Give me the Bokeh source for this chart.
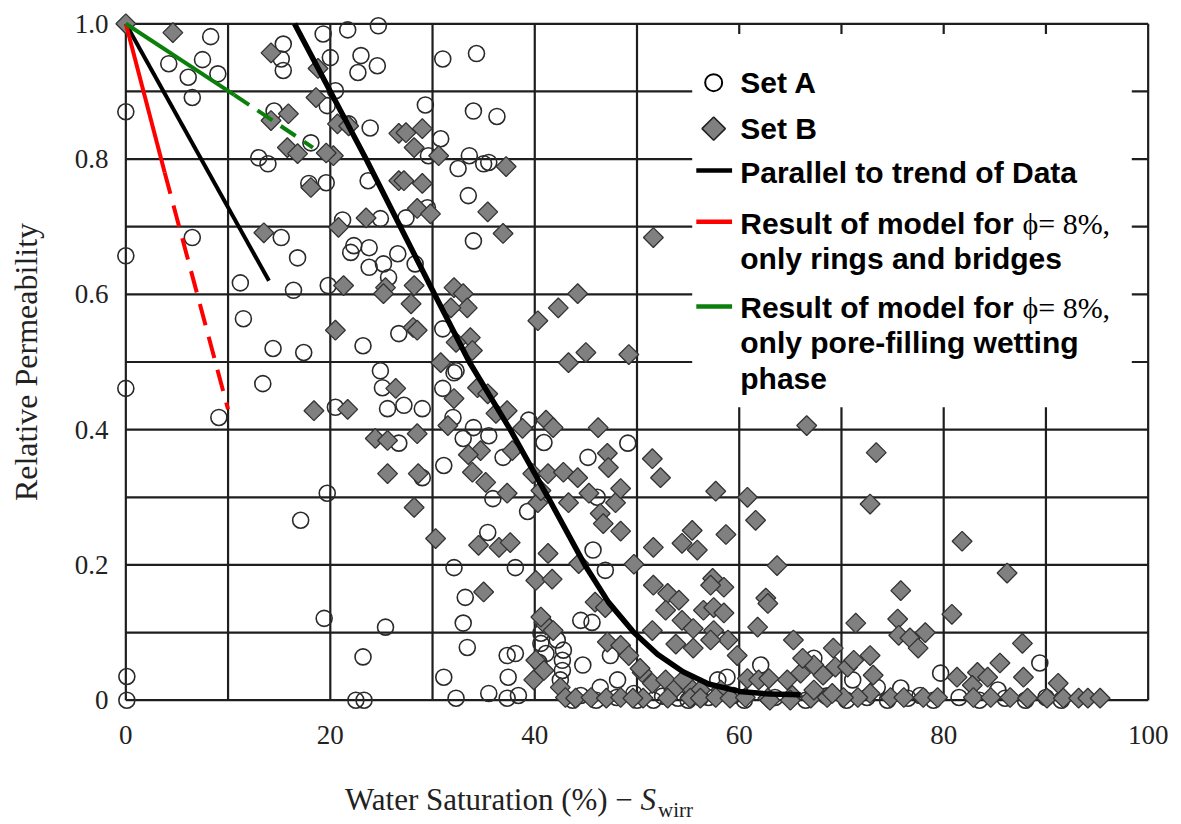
import math
from bokeh.plotting import figure
from bokeh.models import Range1d, FixedTicker, Label, Div
from bokeh.layouts import column
from bokeh.embed import file_html
from bokeh.resources import INLINE

# ---------------- data ----------------
set_a_x = [0, 0, 0, 0.1, 0.1,
           8.3, 4.2, 6.1, 7.5, 9.0, 6.5, 6.5, 9.1,
           15.4, 15.2, 15.4, 14.5, 13.0, 13.9, 17.9, 19.6, 15.2, 16.8, 11.2, 16.4, 19.8,
           19.3, 20.0, 21.7, 23.0, 24.6, 22.7, 24.7, 20.5, 19.7, 23.9, 18.1, 21.8, 23.7, 22.3, 23.8, 23.8, 25.2, 25.7, 26.6,
           11.5, 14.4, 17.4, 13.4, 23.2, 24.9, 25.1, 25.6, 20.5, 17.1, 19.7, 26.7, 26.7, 19.4, 25.4, 23.2, 22.5, 23.3,
           31.0, 34.3, 29.3, 34.0, 36.3, 30.8, 29.6, 33.6, 32.5, 35.0, 35.5, 33.5, 29.5, 27.4, 34.0, 28.3,
           21.2, 24.9, 22.0, 31.0, 32.1, 31.0, 27.2, 29.0, 32.0, 34.0, 39.4,
           32.3, 33.0, 35.5, 40.9, 36.9, 31.1, 45.2, 49.1, 29.0, 35.9, 39.3, 46.1, 35.4, 45.7, 32.1, 38.1, 46.9, 33.2,
           33.0, 33.4, 31.1, 32.3, 35.5, 37.3, 38.1, 37.4, 37.3, 38.4, 40.6, 40.4, 42.2, 42.8, 42.7, 42.5, 44.5, 45.6,
           44.7, 43.7, 44.5, 46.4, 47.4, 48.1, 49.7, 62.1, 51.6, 54.0, 56.2, 57.9, 58.8, 59.4, 40.6, 41.1, 42.7,
           67.3, 71.1, 79.7, 89.4, 75.8, 85.3, 73.5, 77.7,
           46.0, 48.0, 50.0, 52.5, 55.0, 57.0, 60.5, 63.5, 66.5, 68.5, 70.5, 72.5, 74.5, 76.5, 79.0, 81.5, 83.5, 86.0, 88.0, 90.0, 91.5]
set_a_y = [0.870, 0.657, 0.461, 0.035, 0.0,
           0.981, 0.941, 0.921, 0.947, 0.926, 0.891, 0.684, 0.418,
           0.970, 0.948, 0.931, 0.871, 0.802, 0.793, 0.764, 0.765, 0.684, 0.654, 0.617, 0.606, 0.613,
           0.985, 0.950, 0.991, 0.953, 0.938, 0.928, 0.997, 0.901, 0.879, 0.846, 0.824, 0.852, 0.768, 0.672, 0.669, 0.640, 0.645, 0.625, 0.660,
           0.564, 0.520, 0.514, 0.468, 0.524, 0.487, 0.462, 0.431, 0.433, 0.266, 0.306, 0.542, 0.380, 0.121, 0.108, 0.064, 0.0, 0.0,
           0.948, 0.956, 0.880, 0.871, 0.863, 0.830, 0.805, 0.805, 0.786, 0.793, 0.795, 0.746, 0.728, 0.713, 0.679, 0.645,
           0.710, 0.712, 0.662, 0.549, 0.484, 0.461, 0.436, 0.431, 0.418, 0.403, 0.414,
           0.487, 0.387, 0.391, 0.381, 0.359, 0.347, 0.359, 0.380, 0.329, 0.298, 0.279, 0.300, 0.248, 0.222, 0.196, 0.196, 0.192, 0.152,
           0.114, 0.078, 0.034, 0.003, 0.010, 0.066, 0.069, 0.034, 0.003, 0.007, 0.084, 0.056, 0.089, 0.074, 0.059, 0.030, 0.118, 0.115,
           0.052, 0.0, 0.007, 0.019, 0.066, 0.030, 0.010, 0.052, 0.0, 0.003, 0.004, 0.030, 0.034, 0.007, 0.099, 0.069, 0.044,
           0.062, 0.030, 0.040, 0.055, 0.018, 0.015, 0.019, 0.007,
           0.0, 0.004, 0.0, 0.006, 0.0, 0.004, 0.0, 0.004, 0.0, 0.006, 0.0, 0.004, 0.0, 0.003, 0.0, 0.004, 0.0, 0.003, 0.0, 0.004, 0.0]

set_b_x = [0, 4.6, 14.2, 18.6, 15.9, 14.2, 15.8, 16.8, 18.1, 20.3, 19.6, 20.7, 21.8, 18.8, 23.5, 20.8, 13.5, 21.3, 25.4, 25.2,
           26.7, 26.7, 20.5, 18.4, 21.7, 26.4, 24.4, 25.6, 25.6,
           27.4, 29.0, 28.2, 30.6, 37.2, 27.2, 29.0, 35.4, 28.5, 29.8, 36.9, 51.6, 44.2, 28.2, 32.1, 33.0,
           27.9, 33.4, 31.8, 28.1, 28.5, 33.7, 32.3, 33.9, 30.8, 34.4, 32.1, 35.4, 36.2, 37.3, 31.5, 38.8, 41.1, 41.8,
           42.3, 40.3, 45.0, 43.3, 46.2, 28.5, 49.2,
           34.7, 33.5, 37.8, 28.6, 33.9, 35.2, 39.8, 41.3, 42.8, 44.2, 47.1, 47.2, 51.5, 52.3, 28.2, 37.3, 40.3, 43.3,
           45.3, 47.9, 48.4, 46.4, 46.7, 48.4, 57.7, 60.8, 61.6,
           30.3, 34.5, 36.5, 37.6, 41.3, 44.3, 49.7, 51.6, 54.4, 55.4, 55.9, 58.7, 63.7, 40.1, 41.7, 35.0, 51.6, 53.0,
           57.4, 58.5, 62.6,
           40.6, 45.9, 46.9, 54.1, 52.8, 54.4, 55.5, 51.5, 53.8, 55.5, 47.1, 48.4, 49.2, 40.9, 41.1, 41.8, 40.6, 40.1,
           39.9, 40.9, 42.5, 43.0, 50.5, 51.5, 52.8, 53.6, 55.2, 56.2, 50.3, 50.6,
           56.5, 57.5, 57.2, 58.5, 58.9, 59.8, 57.5, 62.8, 61.8, 65.3, 54.5, 58.2, 60.8, 61.9, 62.8, 64.7, 65.2, 53.0,
           55.2, 57.2,
           69.2, 71.4, 72.8, 75.8, 75.5, 75.6, 76.7, 78.2, 77.5, 80.8, 86.2, 87.7, 85.5, 87.8, 91.2, 62.9, 66.0, 67.3,
           68.2, 69.4, 70.6, 71.2, 73.1, 81.3, 83.3, 84.3, 82.8,
           72.8, 71.6, 74.8, 76.1, 78.0, 79.4, 82.9, 84.6, 86.5, 88.2, 90.1, 91.7, 93.2, 94.1, 95.3, 63.0, 65.0, 67.0,
           68.6, 70.2,
           44.0, 45.5, 47.0, 48.4, 49.6, 56.2, 57.7, 59.1, 60.6,
           69.1, 67.3, 66.2, 66.6, 73.4, 72.8, 81.8]
set_b_y = [1.0, 0.987, 0.957, 0.891, 0.867, 0.857, 0.817, 0.808, 0.758, 0.805, 0.809, 0.852, 0.849, 0.934, 0.713, 0.699, 0.691, 0.613, 0.610, 0.601,
           0.838, 0.768, 0.547, 0.428, 0.430, 0.461, 0.387, 0.384, 0.335,
           0.839, 0.845, 0.817, 0.805, 0.789, 0.768, 0.764, 0.722, 0.727, 0.719, 0.690, 0.684, 0.601, 0.613, 0.610, 0.601,
           0.586, 0.580, 0.580, 0.551, 0.547, 0.536, 0.529, 0.517, 0.499, 0.462, 0.446, 0.453, 0.424, 0.428, 0.406, 0.402, 0.414, 0.403,
           0.580, 0.561, 0.514, 0.499, 0.403, 0.394, 0.511,
           0.369, 0.363, 0.369, 0.335, 0.337, 0.322, 0.335, 0.335, 0.337, 0.329, 0.365, 0.344, 0.357, 0.329, 0.285, 0.306, 0.292, 0.292,
           0.306, 0.292, 0.313, 0.276, 0.261, 0.250, 0.309, 0.300, 0.266,
           0.239, 0.229, 0.226, 0.233, 0.217, 0.202, 0.201, 0.226, 0.232, 0.251, 0.222, 0.245, 0.199, 0.177, 0.179, 0.160, 0.170, 0.158,
           0.180, 0.167, 0.151,
           0.310, 0.145, 0.137, 0.148, 0.133, 0.118, 0.106, 0.103, 0.083, 0.077, 0.086, 0.081, 0.066, 0.115, 0.111, 0.103, 0.123, 0.059,
           0.030, 0.044, 0.019, 0.004, 0.041, 0.025, 0.030, 0.015, 0.019, 0.015, 0.047, 0.003,
           0.133, 0.137, 0.170, 0.129, 0.089, 0.066, 0.103, 0.143, 0.108, 0.089, 0.030, 0.015, 0.032, 0.030, 0.003, 0.030, 0.007, 0.003,
           0.003, 0.089,
           0.077, 0.114, 0.066, 0.162, 0.120, 0.096, 0.092, 0.100, 0.077, 0.127, 0.188, 0.084, 0.055, 0.034, 0.025, 0.032, 0.040, 0.052,
           0.037, 0.049, 0.049, 0.059, 0.037, 0.034, 0.041, 0.034, 0.022,
           0.010, 0.004, 0.004, 0.004, 0.004, 0.004, 0.004, 0.004, 0.004, 0.003, 0.003, 0.003, 0.003, 0.003, 0.003, 0.0, 0.0, 0.003,
           0.004, 0.004,
           0.003, 0.004, 0.003, 0.004, 0.003, 0.003, 0.004, 0.003, 0.004,
           0.010, 0.015, 0.062, 0.406, 0.366, 0.290, 0.235]

trend_x = [16.5, 23.5, 30.2, 33.6, 37.6, 41.3, 44.9, 47.2, 49.7, 52.0, 54.5, 57.0, 60.0, 63.0, 66.0]
trend_y = [1.0, 0.8, 0.6, 0.5, 0.4, 0.3, 0.2, 0.145, 0.1, 0.068, 0.042, 0.024, 0.013, 0.009, 0.008]

parallel_x = [0, 14.0]
parallel_y = [1.0, 0.62]
red_solid_x = [0, 3.8]
red_solid_y = [1.0, 0.78]
red_dash_x = [3.8, 10.0]
red_dash_y = [0.78, 0.43]
green_solid_x = [0, 10.6]
green_solid_y = [1.0, 0.895]
green_dash_x = [10.6, 18.3]
green_dash_y = [0.895, 0.817]

x_ticks = [0, 20, 40, 60, 80, 100]
x_tick_labels = ["0", "20", "40", "60", "80", "100"]
y_ticks = [0, 0.2, 0.4, 0.6, 0.8, 1.0]
y_tick_labels = ["0", "0.2", "0.4", "0.6", "0.8", "1.0"]
x_grid = [0, 10, 20, 30, 40, 50, 60, 70, 80, 90, 100]
y_grid = [0, 0.1, 0.2, 0.3, 0.4, 0.5, 0.6, 0.7, 0.8, 0.9, 1.0]

legend_set_a = "Set A"
legend_set_b = "Set B"
legend_parallel = "Parallel to trend of Data"
legend_model = "Result of model for"
legend_phi = "\u03d5= 8%,"
legend_red_2 = "only rings and bridges"
legend_green_2 = "only pore-filling wetting"
legend_green_3 = "phase"
x_label_main = "Water Saturation (%) &minus; "
x_label_s = "S"
x_label_sub = "wirr"
y_label = "Relative Permeability"

# ---------------- figure ----------------
SERIF = "Liberation Serif"
SANS = "Liberation Sans"
GRID = "#1e1e1e"

p = figure(width=1181, height=770,
           x_range=Range1d(-1.5, 101.5), y_range=Range1d(-0.03, 1.03),
           output_backend="svg", toolbar_location=None,
           min_border_left=110, min_border_right=18, min_border_top=3, min_border_bottom=50)
p.xgrid.visible = False
p.ygrid.visible = False
p.outline_line_color = None
p.background_fill_color = "white"
p.border_fill_color = "white"

# grid drawn within the data box only
p.segment(x0=x_grid, y0=[y_grid[0]] * len(x_grid), x1=x_grid, y1=[y_grid[-1]] * len(x_grid),
          line_color=GRID, line_width=2.2)
p.segment(x0=[x_grid[0]] * len(y_grid), y0=y_grid, x1=[x_grid[-1]] * len(y_grid), y1=y_grid,
          line_color=GRID, line_width=2.2)

# axes
for ax in (p.xaxis, p.yaxis):
    ax.axis_line_color = None
    ax.major_tick_line_color = None
    ax.minor_tick_line_color = None
    ax.major_tick_out = 0
    ax.major_tick_in = 0
    ax.major_label_text_font = SERIF
    ax.major_label_text_font_size = "27px"
    ax.major_label_text_color = "#222222"
p.xaxis.ticker = FixedTicker(ticks=x_ticks)
p.xaxis.major_label_overrides = dict(zip(x_ticks, x_tick_labels))
p.xaxis.major_label_standoff = 5
p.yaxis.ticker = FixedTicker(ticks=y_ticks)
p.yaxis.major_label_overrides = dict(zip(y_ticks, y_tick_labels))
p.yaxis.major_label_standoff = 2
p.yaxis.axis_label = y_label
p.yaxis.axis_label_text_font = SERIF
p.yaxis.axis_label_text_font_style = "normal"
p.yaxis.axis_label_text_font_size = "32px"
p.yaxis.axis_label_text_color = "#222222"
p.yaxis.axis_label_standoff = 28

# data
p.scatter(set_a_x, set_a_y, marker="circle", size=16, fill_color=None,
          line_color="#2a2a2a", line_width=1.6)
p.scatter(set_b_x, set_b_y, marker="square", angle=math.pi / 4, size=14,
          fill_color="#808080", line_color="#333333", line_width=1.3)

p.line(trend_x, trend_y, line_color="black", line_width=5.5)
p.line(parallel_x, parallel_y, line_color="black", line_width=4)
p.line(red_solid_x, red_solid_y, line_color="#ff0000", line_width=4)
p.line(red_dash_x, red_dash_y, line_color="#ff0000", line_width=4, line_dash="22 12")
p.line(green_solid_x, green_solid_y, line_color="#0b7f0b", line_width=4)
p.line(green_dash_x, green_dash_y, line_color="#0b7f0b", line_width=4, line_dash="18 10")

# legend (manual, white panel)
p.quad(left=[55.4], right=[98.4], bottom=[0.433], top=[0.985],
       fill_color="white", line_color=None)
p.scatter([57.5], [0.913], marker="circle", size=17, fill_color="white",
          line_color="black", line_width=2)
p.scatter([57.5], [0.845], marker="square", angle=math.pi / 4, size=16.5,
          fill_color="#808080", line_color="#222222", line_width=1.6)
p.segment(x0=[55.8], y0=[0.783], x1=[59.3], y1=[0.783], line_color="black", line_width=4.5)
p.segment(x0=[55.8], y0=[0.7075], x1=[59.3], y1=[0.7075], line_color="#ff0000", line_width=4.5)
p.segment(x0=[55.8], y0=[0.582], x1=[59.3], y1=[0.582], line_color="#0b7f0b", line_width=4.5)


def add_text(x, y, text, font=SANS, size="30px", style="bold", align="left", color="black"):
    p.add_layout(Label(x=x, y=y, text=text, text_font=font, text_font_size=size,
                       text_font_style=style, text_align=align,
                       text_baseline="alphabetic", text_color=color))


add_text(60.1, 0.913, legend_set_a)
add_text(60.1, 0.845, legend_set_b)
add_text(60.1, 0.780, legend_parallel)
add_text(60.1, 0.705, legend_model)
add_text(87.7, 0.705, legend_phi, font=SERIF, style="normal")
add_text(60.1, 0.653, legend_red_2)
add_text(60.1, 0.581, legend_model)
add_text(87.7, 0.581, legend_phi, font=SERIF, style="normal")
add_text(60.1, 0.529, legend_green_2)
add_text(60.1, 0.476, legend_green_3)

# x axis title (mixed italic + subscript) below the plot
x_title = Div(
    text=(x_label_main + "<i>" + x_label_s + "</i>"
          + "<span style='font-size:21px; position:relative; top:7px; margin-left:2px'>"
          + x_label_sub + "</span>"),
    width=836, height=39, margin=(12, 0, 0, 345),
    styles={"font-family": "Liberation Serif", "font-size": "31px",
            "color": "#222222", "line-height": "1.15", "white-space": "nowrap"})

layout = column(p, x_title, spacing=0)
open("out.html", "w").write(file_html(layout, INLINE))
